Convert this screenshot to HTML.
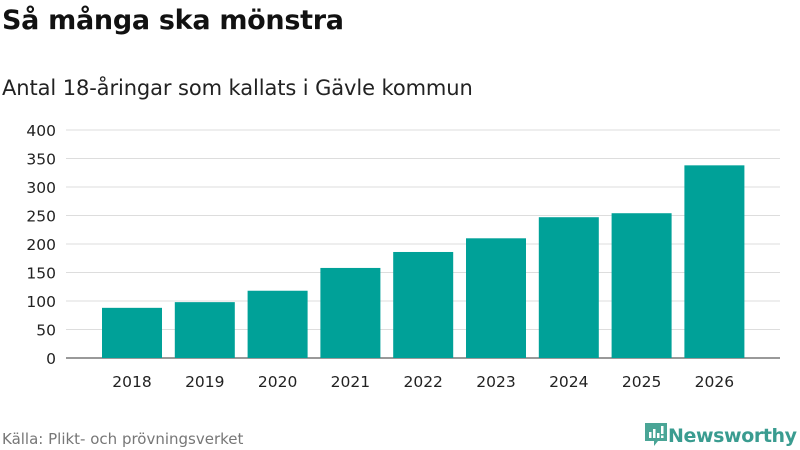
<!DOCTYPE html>
<html><head><meta charset="utf-8"><style>
body{margin:0;width:800px;height:450px;background:#fff;font-family:"DejaVu Sans","Liberation Sans",sans-serif;overflow:hidden;position:relative}
.t{position:absolute;white-space:nowrap}
</style></head><body>
<div class="t" style="left:2px;top:5px;font-size:27px;font-weight:bold;color:#111;letter-spacing:-0.3px">Så många ska mönstra</div>
<div class="t" style="left:2px;top:76px;font-size:21px;color:#222;letter-spacing:-0.1px">Antal 18-åringar som kallats i Gävle kommun</div>
<svg id="c" width="800" height="450" style="position:absolute;left:0;top:0"></svg>
<div class="t" style="left:2px;top:430px;font-size:15px;color:#777">Källa: Plikt- och prövningsverket</div>
<div class="t" style="left:644px;top:421px;font-size:19px;font-weight:bold;color:#3a9c90;letter-spacing:-0.4px">
<svg width="24" height="27" style="vertical-align:-6px" viewBox="0 0 24 27"><path d="M1 2h22v18h-9l-4 5v-5H1z" fill="#4aa596"/><rect x="5" y="11" width="2.5" height="6" fill="#fff"/><rect x="9" y="8" width="2.5" height="9" fill="#fff"/><rect x="13" y="12" width="2.5" height="5" fill="#fff"/><rect x="17" y="5" width="2.5" height="8" fill="#fff"/><rect x="17" y="14.5" width="2.5" height="2.5" fill="#fff"/></svg>Newsworthy</div>
<script>
const categories=["2018","2019","2020","2021","2022","2023","2024","2025","2026"];
const values=[88,98,118,158,186,210,247,254,338];
const yTicks=[0,50,100,150,200,250,300,350,400];
const svg=document.getElementById('c');
const NS='http://www.w3.org/2000/svg';
const y0=358,y1=130,yMax=400;
const yScale=v=>y0-(v/yMax)*(y0-y1);
const band=72.8,xStart=95.6,bw=60;
const xScale=i=>xStart+i*band+(band-bw)/2;
function mk(t,a){const e=document.createElementNS(NS,t);for(const k in a)e.setAttribute(k,a[k]);svg.appendChild(e);return e;}
yTicks.forEach(v=>{
 const l=mk('line',{x1:66,x2:780,y1:yScale(v),y2:yScale(v),stroke:v===0?'#333':'#ddd','stroke-width':1});
 
 
 const t=mk('text',{x:56,y:yScale(v)+6,'text-anchor':'end','font-size':15.5,fill:'#222','font-family':'DejaVu Sans, sans-serif'});
 t.textContent=v;
 
 
});
values.forEach((v,i)=>{
 const r=mk('rect',{x:xScale(i),y:yScale(v),width:bw,height:y0-yScale(v),fill:'#00a198'});
 
 
 const t=mk('text',{x:xScale(i)+bw/2,y:387,'text-anchor':'middle','font-size':15.5,fill:'#222','font-family':'DejaVu Sans, sans-serif'});
 t.textContent=categories[i];
 
 
});
</script>
</body></html>
